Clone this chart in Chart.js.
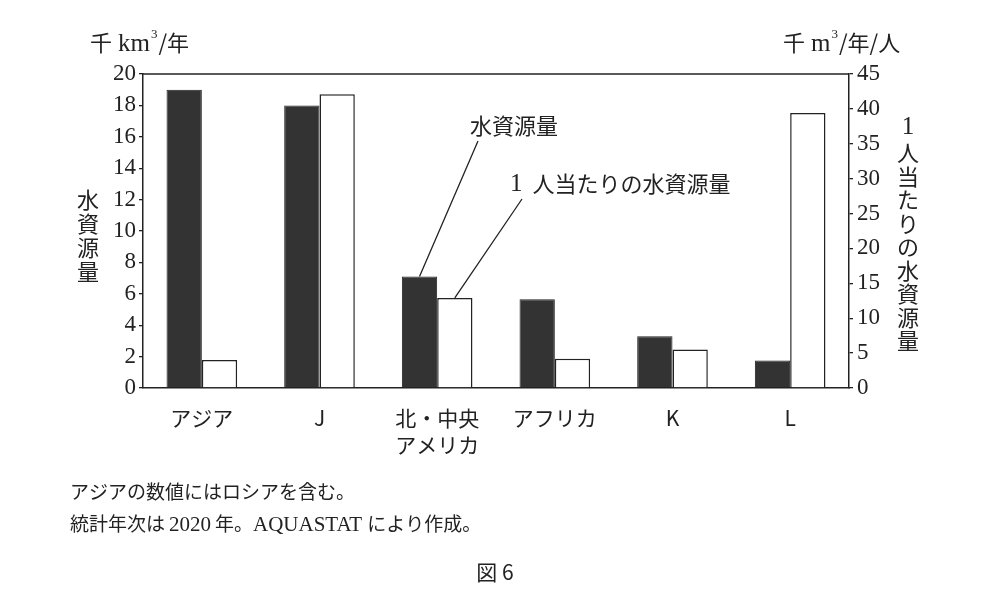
<!DOCTYPE html>
<html>
<head>
<meta charset="utf-8">
<script src="https://cdn.jsdelivr.net/npm/chart.js@4"></script>
<style>
  html, body { margin: 0; padding: 0; background: #fff; }
  #wrap { width: 990px; height: 600px; position: relative; }
</style>
</head>
<body>
<div id="wrap"><canvas id="waterChart"></canvas></div>
<script>
// 地域
const regions = ['アジア', 'J', ['北・中央', 'アメリカ'], 'アフリカ', 'K', 'L']
// 水資源量 (千km3/年)
const waterTotal = [19.0, 18.0, 7.1, 5.65, 3.3, 1.75]
// 1人当たりの水資源量 (千m3/年/人)
const waterPerCapita = [4.0, 42.1, 12.9, 4.2, 5.5, 39.4]
const leftTicks = [0, 2, 4, 6, 8, 10, 12, 14, 16, 18, 20]
const rightTicks = [0, 5, 10, 15, 20, 25, 30, 35, 40, 45]

const serif = '"Liberation Serif", "DejaVu Serif", serif'
const jp = '"Noto Sans CJK JP", "Noto Sans", sans-serif'
const ink = '#222'

// 縦書きの文字を1文字ずつ置く
function drawVertical(ctx, text, x, y, step) {
    for (let i = 0; i < text.length; i++) {
        ctx.fillText(text[i], x, y + i * step)
    }
}

// フォントの違う文字列を横に並べる [text, font, dy, gap]
function drawRuns(ctx, runs, x, y) {
    runs.forEach(r => {
        ctx.font = r[1]
        ctx.fillText(r[0], x, y + (r[2] || 0))
        x += ctx.measureText(r[0]).width + (r[3] || 0)
    })
}

const extras = {
    id: 'extras',
    afterDraw(chart) {
        const ctx = chart.ctx
        const a = chart.chartArea
        ctx.save()
        // 枠の上辺
        ctx.strokeStyle = ink
        ctx.lineWidth = 1.5
        ctx.beginPath()
        ctx.moveTo(a.left, a.top)
        ctx.lineTo(a.right, a.top)
        ctx.stroke()

        ctx.fillStyle = ink
        ctx.textBaseline = 'middle'
        ctx.textAlign = 'left'

        // 単位
        drawRuns(ctx, [
            ['千', '22px ' + jp, 0, 6],
            ['km', '25px ' + serif, 1, 1],
            ['3', '13px ' + serif, -8, 1],
            ['/年', '22px ' + jp]
        ], 90, 43)
        drawRuns(ctx, [
            ['千', '22px ' + jp, 0, 6],
            ['m', '25px ' + serif, 1, 1],
            ['3', '13px ' + serif, -8, 1],
            ['/年/人', '22px ' + jp]
        ], 783, 43)

        // 軸タイトル (縦書き)
        ctx.textAlign = 'center'
        ctx.font = '22px ' + jp
        drawVertical(ctx, '水資源量', 88, 200, 24)
        ctx.font = '25px ' + serif
        ctx.fillText('1', 908, 127)
        ctx.font = '22px ' + jp
        drawVertical(ctx, '人当たりの水資源量', 908, 153, 23.5)

        // 凡例代わりの注記
        ctx.textAlign = 'left'
        ctx.font = '22px ' + jp
        ctx.fillText('水資源量', 470, 126)
        drawRuns(ctx, [
            ['1', '25px ' + serif, 0, 10],
            ['人当たりの水資源量', '22px ' + jp]
        ], 510, 184)

        // 引き出し線
        const dark = chart.getDatasetMeta(0).data[2]
        const light = chart.getDatasetMeta(1).data[2]
        ctx.lineWidth = 1.3
        ctx.beginPath()
        ctx.moveTo(dark.x, dark.y)
        ctx.lineTo(478, 141)
        ctx.moveTo(light.x, light.y)
        ctx.lineTo(522, 199)
        ctx.stroke()

        // 注
        ctx.font = '19px ' + jp
        ctx.fillText('アジアの数値にはロシアを含む。', 70, 492)
        drawRuns(ctx, [
            ['統計年次は', '19px ' + jp, 0, 4],
            ['2020', '21px ' + serif, 1, 4],
            ['年。', '19px ' + jp, 0, 0],
            ['AQUASTAT', '21px ' + serif, 1, 5],
            ['により作成。', '19px ' + jp]
        ], 70, 524)

        ctx.textAlign = 'center'
        ctx.font = '21px ' + jp
        ctx.fillText('図 6', 495, 572)
        ctx.restore()
    }
}

const waterCtx = document.getElementById('waterChart').getContext('2d')
const waterChart = new Chart(waterCtx, {
    type: 'bar',
    data: {
        labels: regions,
        datasets: [{
            label: '水資源量',
            data: waterTotal,
            yAxisID: 'y',
            backgroundColor: '#333',
            borderColor: ink,
            borderWidth: 1
        }, {
            label: '1人当たりの水資源量',
            data: waterPerCapita,
            yAxisID: 'y1',
            backgroundColor: '#fff',
            borderColor: ink,
            borderWidth: 1.5
        }]
    },
    options: {
        responsive: true,
        maintainAspectRatio: false,
        animation: false,
        categoryPercentage: 0.6,
        barPercentage: 1.0,
        layout: {
            padding: { top: 74, left: 0, right: 0, bottom: 0 }
        },
        plugins: {
            legend: { display: false },
            tooltip: { enabled: false }
        },
        scales: {
            x: {
                grid: { display: false },
                border: { color: ink, width: 1.5 },
                ticks: {
                    color: ink,
                    padding: 8,
                    maxRotation: 0,
                    font: { family: jp, size: 21, lineHeight: 1.3 }
                },
                afterFit(scale) { scale.height = 212 }
            },
            y: {
                position: 'left',
                min: 0,
                max: 20,
                afterBuildTicks(scale) { scale.ticks = leftTicks.map(v => ({ value: v })) },
                grid: { drawOnChartArea: false, tickLength: 4, color: ink, lineWidth: 1.3 },
                border: { color: ink, width: 1.5 },
                ticks: {
                    color: ink,
                    padding: 3,
                    autoSkip: false,
                    font: { family: serif, size: 23, lineHeight: 1 }
                },
                afterFit(scale) { scale.width = 143 }
            },
            y1: {
                position: 'right',
                min: 0,
                max: 45,
                afterBuildTicks(scale) { scale.ticks = rightTicks.map(v => ({ value: v })) },
                grid: { drawOnChartArea: false, tickLength: 4, color: ink, lineWidth: 1.3 },
                border: { color: ink, width: 1.5 },
                ticks: {
                    color: ink,
                    padding: 4,
                    autoSkip: false,
                    font: { family: serif, size: 23, lineHeight: 1 }
                },
                afterFit(scale) { scale.width = 141 }
            }
        }
    },
    plugins: [extras]
})
</script>
</body>
</html>
